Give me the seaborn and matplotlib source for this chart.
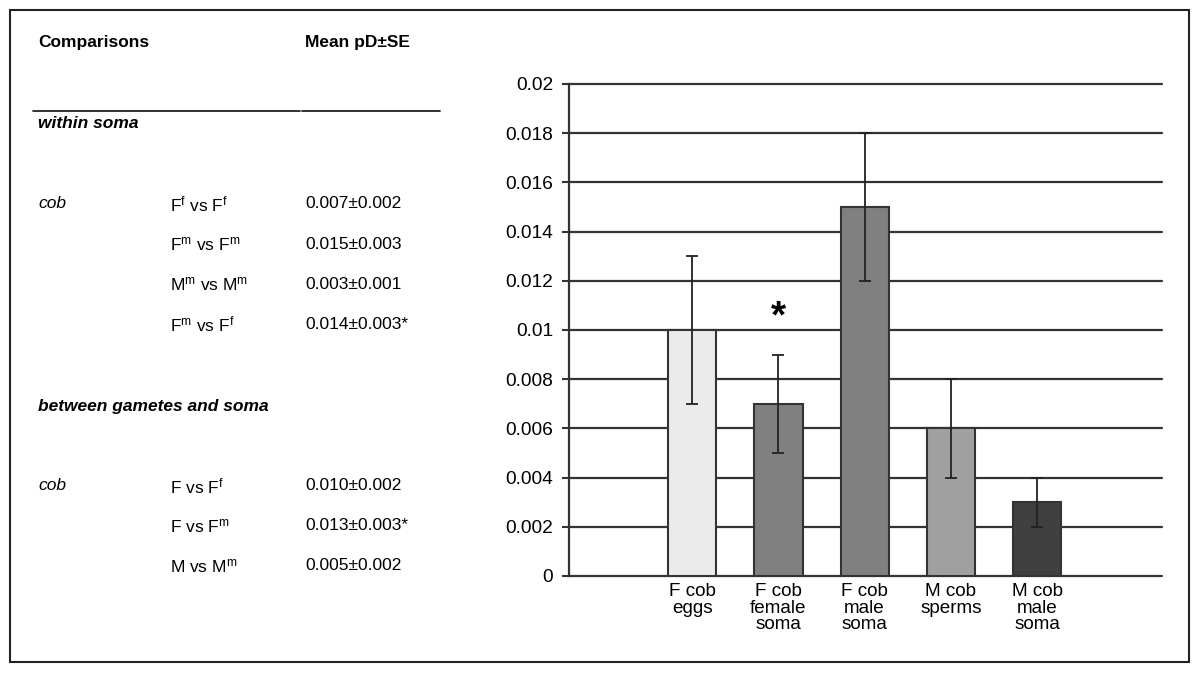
import matplotlib
matplotlib.use("Agg")
import matplotlib.pyplot as plt
import seaborn as sns
from matplotlib.patches import Rectangle
from matplotlib.lines import Line2D

# bar chart data
groups = ["F cob\neggs", "F cob\nfemale\nsoma", "F cob\nmale\nsoma", "M cob\nsperms", "M cob\nmale\nsoma"]
mean_pd = [0.010, 0.007, 0.015, 0.006, 0.003]
se = [0.003, 0.002, 0.003, 0.002, 0.001]
bar_colors = ["#ebebeb", "#808080", "#808080", "#a0a0a0", "#404040"]
y_ticks = [0, 0.002, 0.004, 0.006, 0.008, 0.01, 0.012, 0.014, 0.016, 0.018, 0.02]
y_ticklabels = ["0", "0.002", "0.004", "0.006", "0.008", "0.01", "0.012", "0.014", "0.016", "0.018", "0.02"]

# table on the left
within_pairs = ["F$^{f}$ vs F$^{f}$", "F$^{m}$ vs F$^{m}$", "M$^{m}$ vs M$^{m}$", "F$^{m}$ vs F$^{f}$"]
within_vals = ["0.007±0.002", "0.015±0.003", "0.003±0.001", "0.014±0.003*"]
between_pairs = ["F vs F$^{f}$", "F vs F$^{m}$", "M vs M$^{m}$"]
between_vals = ["0.010±0.002", "0.013±0.003*", "0.005±0.002"]

sns.set_theme(style="white")
plt.rcParams['font.family'] = ['Liberation Sans', 'DejaVu Sans']
plt.rcParams['text.color'] = 'black'
plt.rcParams['xtick.color'] = 'black'
plt.rcParams['ytick.color'] = 'black'
plt.rcParams['mathtext.fontset'] = 'custom'
plt.rcParams['mathtext.rm'] = 'Liberation Sans'
plt.rcParams['mathtext.it'] = 'Liberation Sans:italic'
plt.rcParams['mathtext.default'] = 'regular'

W, H = 1200, 673
fig = plt.figure(figsize=(12, 6.73), dpi=100)
fig.patch.set_facecolor("white")

# outer frame
fig.patches.append(Rectangle((10 / W, 1 - 662 / H), 1179 / W, 652 / H, transform=fig.transFigure,
                             fill=False, edgecolor="#222222", linewidth=1.5))

def fx(px):
    return px / W

def fy(py):
    return 1 - py / H

fs = 12.5
fig.text(fx(38), fy(42), "Comparisons", fontsize=fs, fontweight="bold", va="center")
fig.text(fx(305), fy(42), "Mean pD±SE", fontsize=fs, fontweight="bold", va="center")
fig.lines.append(Line2D([fx(33), fx(300)], [fy(111), fy(111)], transform=fig.transFigure, color="#222222", lw=1.3))
fig.lines.append(Line2D([fx(302), fx(440)], [fy(111), fy(111)], transform=fig.transFigure, color="#222222", lw=1.3))
fig.text(fx(38), fy(123), "within soma", fontsize=fs, fontweight="bold", style="italic", va="center")
fig.text(fx(38), fy(204), "cob", fontsize=fs, style="italic", va="center")
for i, (p, v) in enumerate(zip(within_pairs, within_vals)):
    fig.text(fx(170), fy(204 + 40 * i), p, fontsize=fs, va="center")
    fig.text(fx(305), fy(204 + 40 * i), v, fontsize=fs, va="center")
fig.text(fx(38), fy(406), "between gametes and soma", fontsize=fs, fontweight="bold", style="italic", va="center")
fig.text(fx(38), fy(486), "cob", fontsize=fs, style="italic", va="center")
for i, (p, v) in enumerate(zip(between_pairs, between_vals)):
    fig.text(fx(170), fy(486 + 40 * i), p, fontsize=fs, va="center")
    fig.text(fx(305), fy(486 + 40 * i), v, fontsize=fs, va="center")

# bar chart
ax = fig.add_axes([569 / W, 1 - 576 / H, (1162 - 569) / W, (576 - 84) / H])
ax.set_axisbelow(True)
for t in y_ticks:
    ax.axhline(t, color="#333333", lw=1.6, zorder=0, clip_on=False)
sns.barplot(x=groups, y=mean_pd, hue=groups, palette=bar_colors, legend=False,
            width=0.56, edgecolor="#333333", linewidth=1.5, ax=ax, zorder=2)
ax.errorbar(range(len(groups)), mean_pd, yerr=se, fmt="none", ecolor="#222222",
            elinewidth=1.3, capsize=4.5, capthick=1.3, zorder=3)
ax.text(1, 0.0105, "*", fontsize=28, fontweight="bold", ha="center", va="center")

ax.set_xlim(-1.43, 5.45)
ax.set_ylim(0, 0.02)
ax.set_yticks(y_ticks)
ax.set_yticklabels(y_ticklabels, fontsize=13.8)
ax.tick_params(axis="y", length=5, width=1.5, color="#333333", left=True, pad=6.5)
ax.tick_params(axis="x", length=0, labelsize=13.6, pad=5)
for lbl in ax.get_xticklabels():
    lbl.set_linespacing(0.98)
for s in ["top", "right", "bottom"]:
    ax.spines[s].set_visible(False)
ax.spines["left"].set_color("#333333")
ax.spines["left"].set_linewidth(1.6)
ax.set_facecolor("white")
ax.set_ylabel("")
ax.set_xlabel("")

fig.savefig("out.png", dpi=100)
